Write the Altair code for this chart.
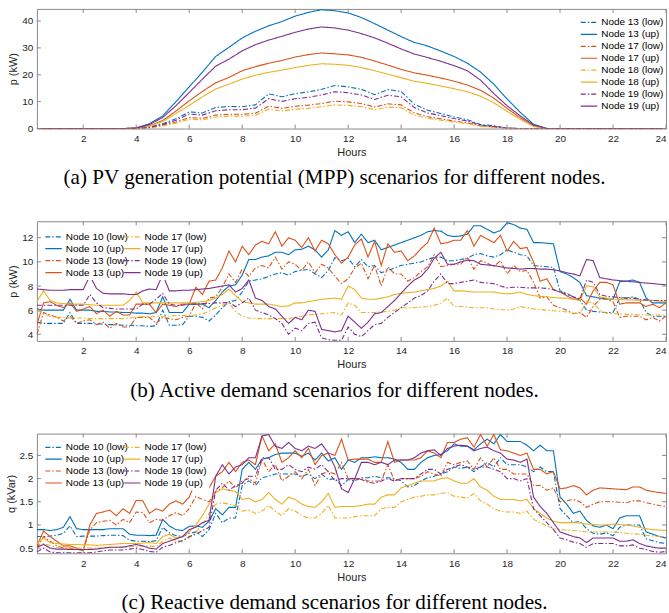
import altair as alt
import pandas as pd

# ---------------- sample times ----------------
HOURS_A = [0.25, 0.5, 1, 1.5, 2, 2.5, 3, 3.5, 4, 4.5, 5, 5.5, 6, 6.5, 7, 7.5, 8, 8.5,
           9, 9.5, 10, 10.5, 11, 11.5, 12, 12.5, 13, 13.5, 14, 14.5, 15, 15.5, 16,
           16.5, 17, 17.5, 18, 18.5, 19, 19.5, 20, 20.5, 21, 21.5, 22, 22.5, 23, 23.5, 24]
HOURS_Q = [0.25 * k for k in range(1, 97)]
TICKS_X = [2, 4, 6, 8, 10, 12, 14, 16, 18, 20, 22, 24]

# ---------------- (a) PV potential, kW ----------------
Z8 = [0, 0, 0, 0, 0, 0, 0, 0]
Z10 = [0, 0, 0, 0, 0, 0, 0, 0, 0, 0]
A_N13_LOW = Z8 + [0, 0.5, 1.8, 3.6, 6.2, 5.8, 7.8, 8.2, 8.1, 8.8, 12.9, 11.8, 13.0, 13.6, 14.6, 16.0,
                  15.5, 14.6, 12.6, 14.5, 13.8, 9.0, 6.8, 5.6, 4.3, 3.3, 1.5, 1.0, 0.2, 0, 0] + Z10
A_N13_UP = Z8 + [0.2, 1.8, 4.7, 10.0, 15.5, 21.0, 26.8, 30.2, 33.7, 36.2, 38.2, 39.8, 41.8, 43.2, 44.2, 43.8,
                 43.0, 41.3, 39.0, 36.6, 34.2, 32.0, 30.7, 28.8, 26.8, 24.3, 21.0, 16.5, 11.0, 6.0, 1.6] + Z10
A_N17_LOW = Z8 + [0, 0.3, 1.2, 2.4, 4.1, 3.8, 5.0, 5.3, 5.3, 5.7, 8.3, 7.5, 8.3, 8.7, 9.3, 10.2,
                  9.9, 9.3, 8.0, 9.2, 8.8, 5.8, 4.4, 3.6, 2.8, 2.1, 1.0, 0.6, 0.1, 0, 0] + Z10
A_N17_UP = Z8 + [0.1, 1.0, 3.0, 6.5, 10.3, 13.8, 17.0, 19.0, 21.5, 23.0, 24.3, 25.3, 26.6, 27.5, 28.1, 27.8,
                 27.4, 26.5, 25.1, 23.6, 22.0, 20.7, 19.8, 18.8, 17.6, 16.2, 14.2, 11.3, 7.5, 4.0, 1.0] + Z10
A_N18_LOW = Z8 + [0, 0.25, 1.0, 2.0, 3.5, 3.2, 4.3, 4.6, 4.6, 4.9, 7.2, 6.5, 7.2, 7.5, 8.1, 8.8,
                  8.6, 8.1, 7.0, 8.0, 7.7, 5.0, 3.8, 3.1, 2.4, 1.8, 0.8, 0.5, 0.1, 0, 0] + Z10
A_N18_UP = Z8 + [0.1, 0.9, 2.6, 5.6, 8.6, 11.8, 14.7, 16.5, 18.4, 19.8, 20.9, 21.7, 22.7, 23.5, 24.1, 23.9,
                 23.5, 22.7, 21.5, 20.2, 18.9, 17.6, 16.8, 15.8, 14.8, 13.7, 12.0, 9.6, 6.4, 3.4, 0.8] + Z10
A_N19_LOW = Z8 + [0, 0.4, 1.5, 3.1, 5.4, 5.0, 6.6, 7.0, 7.0, 7.6, 11.1, 10.1, 11.1, 11.6, 12.5, 13.7,
                  13.3, 12.5, 10.8, 12.4, 11.8, 7.8, 5.8, 4.8, 3.7, 2.8, 1.3, 0.8, 0.1, 0, 0] + Z10
A_N19_UP = Z8 + [0.2, 1.5, 4.1, 8.5, 13.4, 18.4, 23.2, 25.8, 28.9, 31.2, 32.9, 34.3, 35.8, 37.0, 37.8, 37.4,
                 36.6, 35.3, 33.7, 31.7, 29.6, 27.7, 26.4, 25.0, 23.4, 21.5, 18.0, 13.0, 8.5, 4.7, 1.3] + Z10

# ---------------- (b) active demand, kW (15 min) ----------------
B_N10_LOW = [5.0, 4.9, 4.9, 4.9, 4.9, 5.8, 4.9, 4.9, 4.9, 4.85, 4.85, 4.8, 4.8, 4.75, 4.75, 4.7,
             4.7, 4.65, 4.7, 6.0, 4.75, 4.75, 4.8, 5.5, 5.5, 5.4, 5.1, 5.6, 6.2, 6.7, 6.8, 7.5,
             8.4, 8.5, 8.6, 8.8, 9.0, 9.1, 8.9, 9.2, 9.3, 9.4, 9.0, 8.7, 9.3, 10.35, 10.1, 10.3,
             9.6, 10.2, 9.6, 9.7, 9.1, 9.3, 9.5, 9.7, 9.8, 9.9, 10.0, 10.2, 10.4, 10.4, 10.1, 10.1,
             10.2, 10.3, 10.6, 10.7, 10.5, 10.4, 10.6, 11.0, 10.8, 10.6, 10.5, 9.7, 9.65, 9.6, 9.55, 7.6,
             7.4, 7.1, 6.8, 6.0, 5.9, 5.85, 5.8, 5.8, 7.0, 7.0, 7.1, 6.9, 5.8, 5.5, 5.5, 5.5]
B_N10_UP = [6.1, 6.0, 6.0, 6.0, 6.0, 6.9, 6.0, 6.0, 6.0, 5.9, 5.9, 5.85, 5.85, 5.8, 5.8, 5.75,
            5.75, 5.7, 5.8, 7.1, 5.8, 5.8, 5.8, 6.5, 6.5, 6.5, 6.2, 6.8, 7.5, 8.0, 8.1, 8.9,
            10.2, 10.2, 10.4, 10.5, 10.8, 10.8, 10.6, 11.0, 11.05, 11.3, 11.0, 10.4, 11.0, 12.6, 12.2, 12.5,
            11.6, 12.3, 11.6, 11.8, 11.0, 11.2, 11.4, 11.6, 11.8, 12.0, 12.2, 12.5, 12.6, 12.55, 12.2, 12.1,
            12.15, 12.3, 13.0, 13.0, 12.7, 12.4, 12.6, 13.25, 13.1, 12.8, 12.7, 11.6, 11.6, 11.55, 11.5, 9.2,
            9.0, 8.7, 8.3, 7.2, 7.1, 7.0, 6.95, 6.9, 8.35, 8.4, 8.5, 8.3, 7.0, 6.6, 6.6, 6.6]
B_N13_LOW = [4.0, 5.8, 5.6, 5.4, 5.1, 5.5, 4.9, 5.1, 5.2, 4.8, 5.0, 4.5, 4.9, 4.6, 4.6, 5.4,
             5.4, 5.4, 4.9, 5.4, 5.3, 5.2, 5.4, 5.5, 6.6, 6.1, 7.0, 7.1, 7.9, 9.0, 8.3, 9.4,
             8.8, 9.5, 9.7, 9.5, 10.4, 9.4, 10.0, 9.8, 9.3, 10.0, 9.1, 9.8, 9.5, 8.8, 8.2, 8.6,
             9.5, 9.9, 8.6, 9.7, 8.0, 9.6, 9.0, 9.0, 8.4, 8.7, 9.2, 9.6, 10.6, 9.6, 9.7, 9.8,
             9.8, 10.4, 9.4, 10.1, 9.9, 9.6, 10.1, 9.0, 9.7, 9.2, 9.3, 8.3, 7.0, 7.1, 6.4, 6.2,
             6.0, 5.7, 5.8, 5.4, 6.3, 6.9, 6.9, 6.7, 5.4, 5.5, 5.5, 5.5, 5.2, 5.4, 5.1, 5.5]
B_N13_UP = [4.8, 6.6, 6.7, 6.4, 6.2, 6.6, 5.9, 6.1, 6.3, 5.7, 6.0, 5.5, 5.9, 5.6, 5.6, 6.5,
            6.5, 6.5, 5.8, 6.5, 6.4, 6.3, 6.5, 6.5, 7.9, 7.3, 8.4, 8.5, 9.5, 10.9, 10.0, 11.3,
            10.6, 11.4, 11.7, 11.5, 12.5, 11.3, 12.0, 11.8, 11.2, 12.0, 10.9, 11.8, 11.5, 10.6, 9.9, 10.4,
            11.4, 11.9, 10.4, 11.7, 9.7, 11.5, 10.8, 10.9, 10.1, 10.5, 11.1, 11.6, 12.8, 11.5, 11.6, 11.8,
            11.8, 12.6, 11.3, 12.2, 11.9, 11.6, 12.2, 10.9, 11.7, 11.1, 11.2, 10.0, 8.4, 8.6, 7.7, 7.5,
            7.2, 6.9, 7.0, 6.5, 7.6, 8.3, 8.3, 8.1, 6.5, 6.6, 6.6, 6.6, 6.3, 6.5, 6.2, 6.6]
B_N17_LOW = [6.0, 5.7, 5.5, 5.4, 5.4, 5.35, 5.35, 5.35, 5.3, 5.3, 5.3, 5.3, 5.3, 5.3, 5.35, 5.4,
             5.45, 5.5, 5.5, 5.5, 5.5, 5.55, 5.55, 5.6, 5.6, 5.7, 5.9, 6.2, 6.4, 6.6, 5.9, 5.5,
             5.35, 5.3, 5.3, 5.3, 5.3, 5.3, 5.3, 5.4, 5.5, 5.6, 5.65, 5.7, 5.75, 5.8, 5.6, 6.6,
             6.4, 5.8, 5.8, 5.8, 5.85, 5.9, 6.0, 6.2, 6.2, 6.2, 6.25, 6.3, 6.4, 6.6, 7.0, 6.3,
             6.3, 6.25, 6.2, 6.2, 6.2, 6.1, 6.05, 6.0, 6.1, 6.3, 6.2, 6.1, 6.05, 6.0, 5.95, 5.9,
             5.85, 5.75, 5.7, 6.7, 6.6, 6.0, 5.75, 5.7, 5.7, 5.65, 5.65, 5.6, 5.6, 5.6, 5.6, 5.6]
B_N17_UP = [6.7, 7.6, 6.8, 6.6, 6.55, 6.5, 6.5, 6.5, 6.45, 6.4, 6.4, 6.4, 6.4, 6.4, 6.8, 7.5,
            6.6, 6.6, 6.6, 6.6, 6.6, 6.6, 6.6, 6.6, 6.65, 6.7, 6.8, 7.0, 7.3, 7.75, 7.2, 6.7,
            6.6, 6.5, 6.5, 6.5, 6.4, 6.3, 6.35, 6.6, 6.6, 6.7, 6.8, 6.9, 6.95, 7.0, 6.9, 8.0,
            7.7, 7.0, 6.9, 6.9, 7.0, 7.1, 7.3, 7.4, 7.45, 7.5, 7.6, 7.7, 7.8, 8.0, 8.4, 7.6,
            7.6, 7.55, 7.5, 7.5, 7.5, 7.5, 7.4, 7.35, 7.4, 7.5, 7.3, 7.2, 7.15, 7.1, 7.05, 7.0,
            7.0, 6.9, 6.8, 8.0, 7.95, 7.1, 7.0, 6.9, 6.9, 6.85, 6.85, 6.8, 6.8, 6.8, 6.75, 6.75]
B_N19_LOW = [6.4, 6.4, 6.4, 6.4, 6.4, 6.4, 6.4, 6.4, 7.3, 6.6, 6.2, 6.15, 6.1, 6.1, 6.1, 6.1,
             6.5, 6.5, 6.9, 7.4, 6.5, 6.4, 6.4, 6.5, 6.5, 6.55, 6.55, 6.6, 6.6, 6.65, 6.3, 6.6,
             7.0, 6.0, 5.8, 5.6, 5.3, 4.9, 4.0, 4.5, 4.3, 4.9, 5.0, 3.7, 3.55, 3.5, 3.5, 4.6,
             4.0, 3.8, 4.3, 4.8, 4.9, 5.4, 5.8, 6.2, 6.6, 7.0, 7.2, 7.6, 8.4, 9.0, 8.2, 8.2,
             8.3, 8.4, 8.5, 8.3, 8.25, 8.2, 8.0, 7.85, 7.9, 7.9, 7.85, 7.85, 7.85, 7.8, 7.7, 7.5,
             7.3, 7.1, 6.9, 8.5, 8.3, 7.3, 7.15, 7.1, 7.05, 7.0, 7.0, 6.9, 6.85, 6.8, 6.8, 6.8]
B_N19_UP = [7.75, 7.7, 7.65, 7.65, 7.65, 7.7, 7.7, 7.7, 8.85, 7.8, 7.4, 7.35, 7.35, 7.35, 7.3, 7.3,
            7.6, 7.75, 7.7, 8.95, 7.6, 7.6, 7.65, 7.65, 7.7, 7.75, 7.8, 7.9, 8.0, 8.1, 7.5, 7.8,
            8.5, 7.0, 6.8, 6.3, 6.1, 5.5, 4.9, 5.4, 5.2, 6.0, 5.9, 4.4, 4.3, 4.2, 4.3, 5.5,
            5.0, 4.5, 5.0, 5.7, 5.8, 6.3, 6.8, 7.4, 8.0, 8.5, 8.8, 9.4, 10.3, 10.8, 9.8, 9.8,
            10.0, 10.15, 10.1, 9.8, 9.75, 9.7, 9.6, 9.5, 9.45, 9.4, 9.45, 9.45, 9.4, 9.4, 9.35, 9.25,
            9.1, 9.0, 8.85, 10.2, 10.1, 8.7, 8.6, 8.5, 8.45, 8.4, 8.35, 8.3, 8.25, 8.2, 8.15, 8.1]

# ---------------- (c) reactive demand, kVar (15 min) ----------------
C_N10_LOW = [0.75, 0.75, 0.76, 0.78, 0.82, 0.98, 0.75, 0.76, 0.76, 0.76, 0.77, 0.78, 0.78, 0.77, 0.67, 0.65,
             0.65, 0.64, 0.66, 0.95, 0.83, 0.77, 0.75, 0.82, 0.85, 0.75, 0.9, 1.25, 1.05, 1.15, 1.15, 1.85,
             1.95, 1.85, 2.02, 2.05, 2.1, 2.1, 2.1, 2.1, 2.05, 2.1, 2.0, 2.1, 1.98, 2.0, 1.85, 1.98,
             1.95, 2.02, 2.02, 2.05, 2.02, 2.02, 2.0, 1.95, 1.82, 1.85, 1.95, 2.02, 2.05, 2.1, 2.15, 2.25,
             2.22, 2.25, 2.15, 2.25, 2.35, 2.25, 2.45, 2.3, 2.3, 2.3, 2.25, 2.15, 2.25, 2.15, 2.15, 1.35,
             1.2, 1.05, 1.08, 0.92, 0.82, 0.8, 0.83, 0.77, 0.95, 1.0, 1.0, 1.0, 0.7, 0.66, 0.62, 0.6]
C_N10_UP = [0.9, 0.9, 0.88, 0.9, 0.95, 1.18, 0.92, 0.9, 0.9, 0.9, 0.9, 0.92, 0.92, 0.92, 0.8, 0.78,
            0.78, 0.77, 0.78, 1.12, 0.98, 0.9, 0.88, 0.97, 0.98, 0.95, 1.08, 1.35, 1.22, 1.38, 1.38, 2.2,
            2.35, 2.2, 2.42, 2.45, 2.52, 2.55, 2.55, 2.55, 2.48, 2.55, 2.4, 2.55, 2.38, 2.45, 2.2, 2.4,
            2.35, 2.45, 2.45, 2.47, 2.45, 2.45, 2.42, 2.35, 2.2, 2.2, 2.35, 2.45, 2.5, 2.52, 2.6, 2.75,
            2.7, 2.7, 2.62, 2.75, 2.85, 2.75, 2.95, 2.8, 2.8, 2.8, 2.72, 2.6, 2.72, 2.6, 2.6, 1.6,
            1.45, 1.25, 1.3, 1.1, 0.98, 0.95, 1.0, 0.92, 1.15, 1.2, 1.2, 1.2, 0.85, 0.8, 0.75, 0.72]
C_N13_LOW = [0.5, 0.75, 0.65, 0.55, 0.5, 0.5, 0.47, 0.45, 0.9, 1.05, 1.08, 1.1, 1.0, 1.12, 1.05, 1.28,
             1.27, 1.05, 1.12, 1.1, 1.2, 1.27, 1.2, 1.35, 1.62, 1.55, 1.5, 1.72, 1.8, 1.95, 1.8, 1.95,
             2.0, 1.9, 2.42, 2.15, 2.3, 1.95, 2.05, 2.15, 2.0, 2.2, 1.85, 2.1, 2.15, 2.1, 2.35, 2.0,
             2.0, 2.0, 1.95, 1.95, 1.95, 2.3, 1.95, 2.0, 2.0, 2.0, 2.05, 2.15, 2.1, 2.05, 2.35, 2.3,
             2.35, 2.38, 2.2, 2.45, 2.25, 2.45, 2.2, 2.2, 2.1, 2.1, 2.1, 1.85, 1.85, 1.75, 1.8, 1.5,
             1.52, 1.55, 1.5, 1.38, 1.45, 1.5, 1.5, 1.5, 1.49, 1.48, 1.52, 1.52, 1.48, 1.45, 1.42, 1.4]
C_N13_UP = [0.55, 0.87, 0.75, 0.65, 0.55, 0.55, 0.5, 0.45, 1.0, 1.25, 1.28, 1.32, 1.2, 1.35, 1.25, 1.53,
            1.52, 1.25, 1.35, 1.3, 1.45, 1.52, 1.45, 1.6, 1.95, 1.85, 1.8, 2.05, 2.15, 2.35, 2.15, 2.35,
            2.4, 2.3, 2.92, 2.6, 2.75, 2.35, 2.45, 2.6, 2.45, 2.65, 2.3, 2.5, 2.55, 2.5, 2.85, 2.4,
            2.42, 2.42, 2.42, 2.35, 2.35, 2.8, 2.35, 2.4, 2.4, 2.4, 2.45, 2.6, 2.55, 2.45, 2.78, 2.78,
            2.85, 2.88, 2.68, 2.95, 2.7, 2.95, 2.62, 2.6, 2.55, 2.5, 2.55, 2.2, 2.2, 2.1, 2.15, 1.78,
            1.8, 1.85, 1.8, 1.65, 1.75, 1.8, 1.79, 1.78, 1.77, 1.76, 1.82, 1.82, 1.75, 1.72, 1.7, 1.68]
C_N17_LOW = [0.5, 0.6, 0.55, 0.52, 0.51, 0.5, 0.5, 0.5, 0.5, 0.5, 0.51, 0.52, 0.52, 0.53, 0.53, 0.54,
             0.54, 0.55, 0.53, 0.65, 0.72, 0.65, 0.66, 0.72, 0.85, 1.0, 1.25, 1.45, 1.48, 1.45, 1.42, 1.3,
             1.32, 1.25, 1.3, 1.42, 1.3, 1.2, 1.35, 1.3, 1.2, 1.15, 1.15, 1.25, 1.42, 1.15, 1.15, 1.15,
             1.18, 1.2, 1.2, 1.2, 1.35, 1.38, 1.38, 1.5, 1.55, 1.6, 1.62, 1.65, 1.65, 1.68, 1.7, 1.62,
             1.6, 1.58, 1.68, 1.52, 1.45, 1.35, 1.3, 1.28, 1.28, 1.25, 1.3, 1.12, 1.05, 0.98, 0.92, 0.9,
             0.89, 0.88, 0.87, 0.85, 0.85, 0.85, 0.85, 0.85, 0.84, 0.82, 0.81, 0.8, 0.78, 0.76, 0.75, 0.75]
C_N17_UP = [0.6, 0.72, 0.62, 0.6, 0.59, 0.58, 0.58, 0.57, 0.57, 0.56, 0.57, 0.58, 0.59, 0.6, 0.6, 0.6,
            0.61, 0.62, 0.6, 0.75, 0.8, 0.72, 0.75, 0.85, 1.0, 1.2, 1.45, 1.7, 1.78, 1.75, 1.72, 1.55,
            1.58, 1.5, 1.55, 1.7, 1.55, 1.45, 1.6, 1.55, 1.45, 1.4, 1.38, 1.5, 1.68, 1.38, 1.4, 1.4,
            1.4, 1.42, 1.45, 1.45, 1.6, 1.65, 1.65, 1.8, 1.85, 1.9, 1.95, 1.95, 1.95, 2.0, 2.02, 1.95,
            1.9, 1.9, 2.0, 1.82, 1.75, 1.62, 1.55, 1.55, 1.55, 1.52, 1.55, 1.35, 1.25, 1.15, 1.08, 1.05,
            1.05, 1.05, 1.04, 1.02, 1.01, 1.0, 1.0, 1.02, 1.01, 1.0, 0.98, 0.95, 0.92, 0.9, 0.89, 0.88]
C_N19_LOW = [0.42, 0.5, 0.42, 0.4, 0.4, 0.4, 0.4, 0.4, 0.4, 0.42, 0.44, 0.46, 0.46, 0.46, 0.48, 0.5,
             0.47, 0.43, 0.41, 0.52, 0.56, 0.62, 0.66, 0.75, 0.8, 0.88, 0.95, 1.75, 1.9, 1.75, 1.85, 1.9,
             2.05, 2.05, 2.45, 2.45, 2.2, 2.2, 2.3, 2.2, 2.15, 2.25, 2.2, 2.3, 2.15, 1.95, 2.0, 2.0,
             2.0, 1.98, 1.92, 1.9, 1.95, 2.0, 1.95, 2.0, 2.0, 2.0, 2.1, 2.2, 2.2, 2.1, 2.2, 2.25,
             2.3, 2.25, 2.2, 2.25, 2.25, 2.2, 2.15, 2.0, 2.0, 1.95, 2.0, 1.35, 1.2, 1.05, 0.9, 0.72,
             0.68, 0.63, 0.6, 0.52, 0.6, 0.6, 0.6, 0.6, 0.55, 0.55, 0.57, 0.5, 0.47, 0.43, 0.41, 0.43]
C_N19_UP = [0.52, 0.58, 0.5, 0.48, 0.48, 0.47, 0.47, 0.47, 0.47, 0.48, 0.5, 0.52, 0.52, 0.52, 0.55, 0.58,
            0.55, 0.5, 0.48, 0.6, 0.65, 0.7, 0.75, 0.9, 0.95, 1.05, 1.1, 2.05, 2.3, 2.1, 2.25, 2.3,
            2.45, 2.45, 2.92, 2.95, 2.7, 2.65, 2.78, 2.65, 2.6, 2.7, 2.65, 2.75, 2.55, 2.25, 1.78, 1.7,
            2.0, 2.35, 2.35, 2.3, 2.35, 2.3, 2.4, 2.4, 2.4, 2.45, 2.55, 2.6, 2.62, 2.5, 2.65, 2.7,
            2.72, 2.7, 2.6, 2.65, 2.68, 2.6, 2.55, 2.42, 2.4, 2.35, 2.42, 1.6, 1.4, 1.25, 1.05, 0.85,
            0.8, 0.75, 0.72, 0.62, 0.72, 0.72, 0.72, 0.72, 0.65, 0.65, 0.68, 0.6, 0.55, 0.52, 0.5, 0.5]

# ---------------- styling ----------------
BLUE, ORANGE, YELLOW, PURPLE = "#0072BD", "#D95319", "#EDB120", "#7E2F8E"
DASHDOT = [5, 2, 1.5, 2]
SOLID = [1, 0]
GRAY = "#8a8a8a"
W, H = 631, 120
SANS = "Liberation Sans"
SERIF = "Liberation Serif"


def long_df(hours, series):
    rows = []
    for name, vals in series:
        assert len(vals) == len(hours), (name, len(vals))
        for h, v in zip(hours, vals):
            rows.append({"hour": h, "value": v, "series": name})
    return pd.DataFrame(rows)


def panel(df, names, colors, dashes, ydom, yticks, ytitle, caption, legend):
    x = alt.X("hour:Q", scale=alt.Scale(domain=[0.25, 24], nice=False, zero=False),
              axis=alt.Axis(values=TICKS_X, tickCount=len(TICKS_X), title="Hours",
                            labelFlush=True, labelOverlap=False))
    y = alt.Y("value:Q", scale=alt.Scale(domain=ydom, nice=False, zero=False),
              axis=alt.Axis(values=yticks, tickCount=len(yticks), title=ytitle, format=".1~f",
                            labelOverlap=False))
    lines = alt.Chart(df).mark_line(strokeWidth=1.1, clip=True).encode(
        x=x, y=y,
        color=alt.Color("series:N", scale=alt.Scale(domain=names, range=colors), legend=legend),
        strokeDash=alt.StrokeDash("series:N", scale=alt.Scale(domain=names, range=dashes), legend=legend),
    )
    xt = pd.DataFrame({"hour": TICKS_X})
    yt = pd.DataFrame({"value": yticks})
    tb = alt.Chart(xt).mark_rule(color=GRAY).encode(x="hour:Q", y=alt.value(H), y2=alt.value(H - 4))
    tt = alt.Chart(xt).mark_rule(color=GRAY).encode(x="hour:Q", y=alt.value(0), y2=alt.value(4))
    tl = alt.Chart(yt).mark_rule(color=GRAY).encode(y="value:Q", x=alt.value(0), x2=alt.value(4))
    tr = alt.Chart(yt).mark_rule(color=GRAY).encode(y="value:Q", x=alt.value(W), x2=alt.value(W - 4))
    return alt.layer(lines, tb, tt, tl, tr).properties(
        width=W, height=H,
        title=alt.TitleParams(caption, orient="bottom", anchor="middle", font=SERIF, fontSize=21.2,
                              fontWeight="normal", color="black", offset=10, dx=-17),
    )


def make_legend(cols, lx, ly):
    # custom stroke symbol: a horizontal segment that extends to the left of the symbol box
    return alt.Legend(orient="none", legendX=lx, legendY=ly, title=None, columns=cols,
                      symbolType="M-2,0H1", symbolSize=121, symbolStrokeWidth=1.2,
                      labelFont=SANS, labelFontSize=10, labelColor="black", labelOffset=3,
                      fillColor="white", padding=2, rowPadding=-0.8, columnPadding=-18)


# (a)
A_NAMES = ["Node 13 (low)", "Node 13 (up)", "Node 17 (low)", "Node 17 (up)",
           "Node 18 (low)", "Node 18 (up)", "Node 19 (low)", "Node 19 (up)"]
A_COLORS = [BLUE, BLUE, ORANGE, ORANGE, YELLOW, YELLOW, PURPLE, PURPLE]
A_DASH = [DASHDOT, SOLID] * 4
df_a = long_df(HOURS_A, list(zip(A_NAMES, [A_N13_LOW, A_N13_UP, A_N17_LOW, A_N17_UP,
                                          A_N18_LOW, A_N18_UP, A_N19_LOW, A_N19_UP])))

# (b), (c)
BC_NAMES = ["Node 10 (low)", "Node 10 (up)", "Node 13 (low)", "Node 13 (up)",
            "Node 17 (low)", "Node 17 (up)", "Node 19 (low)", "Node 19 (up)"]
BC_COLORS = [BLUE, BLUE, ORANGE, ORANGE, YELLOW, YELLOW, PURPLE, PURPLE]
BC_DASH = [DASHDOT, SOLID] * 4
df_b = long_df(HOURS_Q, list(zip(BC_NAMES, [B_N10_LOW, B_N10_UP, B_N13_LOW, B_N13_UP,
                                           B_N17_LOW, B_N17_UP, B_N19_LOW, B_N19_UP])))
df_c = long_df(HOURS_Q, list(zip(BC_NAMES, [C_N10_LOW, C_N10_UP, C_N13_LOW, C_N13_UP,
                                           C_N17_LOW, C_N17_UP, C_N19_LOW, C_N19_UP])))

pa = panel(df_a, A_NAMES, A_COLORS, A_DASH, [0, 44.5], [0, 10, 20, 30, 40], "p (kW)",
           "(a) PV generation potential (MPP) scenarios for different nodes.",
           make_legend(1, 548, 5))
pb = panel(df_b, BC_NAMES, BC_COLORS, BC_DASH, [3.45, 13.37], [4, 6, 8, 10, 12], "p (kW)",
           "(b) Active demand scenarios for different nodes.",
           make_legend(2, 11, 7))
pc = panel(df_c, BC_NAMES, BC_COLORS, BC_DASH, [0.39, 2.97], [0.5, 1, 1.5, 2, 2.5], "q (kVar)",
           "(c) Reactive demand scenarios for different nodes.",
           make_legend(2, 11, 5))

chart = alt.vconcat(pa, pb, pc, spacing=31).resolve_scale(color="independent", strokeDash="independent").properties(
    padding={"left": 4, "top": 7, "right": 2, "bottom": 0}
).configure_view(stroke=GRAY, strokeWidth=1).configure_axis(
    grid=False, ticks=False, domain=False, labelOverlap=False,
    labelFont=SANS, labelFontSize=10, labelColor="#262626", labelPadding=5,
    titleFont=SANS, titleFontSize=11, titleFontWeight="normal", titleColor="#262626", titlePadding=3,
).configure_axisY(labelPadding=4)

chart.save("out.html", embed_options={"renderer": "svg", "actions": False})
